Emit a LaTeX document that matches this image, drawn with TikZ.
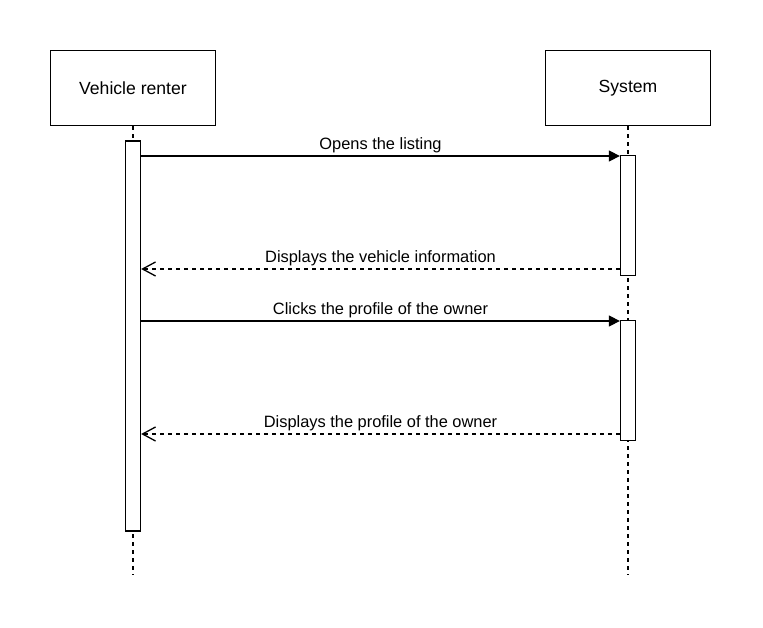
\documentclass[tikz,border=0pt]{standalone}
\usepackage{fontspec}
\setmainfont{Liberation Sans}
\usetikzlibrary{arrows.meta,calc}
\begin{document}
\begin{tikzpicture}[x=1pt,y=-1pt, line width=1.3pt,
  actor/.style={draw, fill=white, minimum width=165pt, minimum height=75pt, inner sep=0pt, font=\fontsize{17.6}{20}\selectfont},
  bar/.style={draw, fill=white, minimum width=15pt, inner sep=0pt},
  life/.style={dash pattern=on 4pt off 4pt},
  msg/.style={-{Triangle[length=11pt,width=11pt]}},
  ret/.style={dash pattern=on 4pt off 4pt, -{Straight Barb[length=13pt,width=14pt]}},
  lbl/.style={font=\fontsize{16.4}{19}\selectfont, inner sep=0pt}
]
\useasboundingbox (0,0) rectangle (763,628);
% actors
\node[actor] (renter) at (133,88) {Vehicle renter};
\node[actor] (system) at (628,88) {System};
% lifeline ends
\coordinate (rend) at (133,575);
\coordinate (send) at (628,575);
\draw[life] (renter.south) -- (rend);
\draw[life] (system.south) -- (send);
% activation bars
\node[bar, minimum height=390pt] (lbar) at (133,336) {};
\node[bar, minimum height=120pt] (rbar1) at (628,215.5) {};
\node[bar, minimum height=120pt] (rbar2) at (628,380.5) {};
% messages
\draw[msg] (lbar.east |- 0,156) -- node[lbl, yshift=11pt] {Opens the listing} (rbar1.west |- 0,156);
\draw[ret] (rbar1.west |- 0,269) -- node[lbl, yshift=10.5pt] {Displays the vehicle information} (lbar.east |- 0,269);
\draw[msg] (lbar.east |- 0,321) -- node[lbl, yshift=11pt] {Clicks the profile of the owner} (rbar2.west |- 0,321);
\draw[ret] (rbar2.west |- 0,434) -- node[lbl, yshift=10.5pt] {Displays the profile of the owner} (lbar.east |- 0,434);
\end{tikzpicture}
\end{document}
